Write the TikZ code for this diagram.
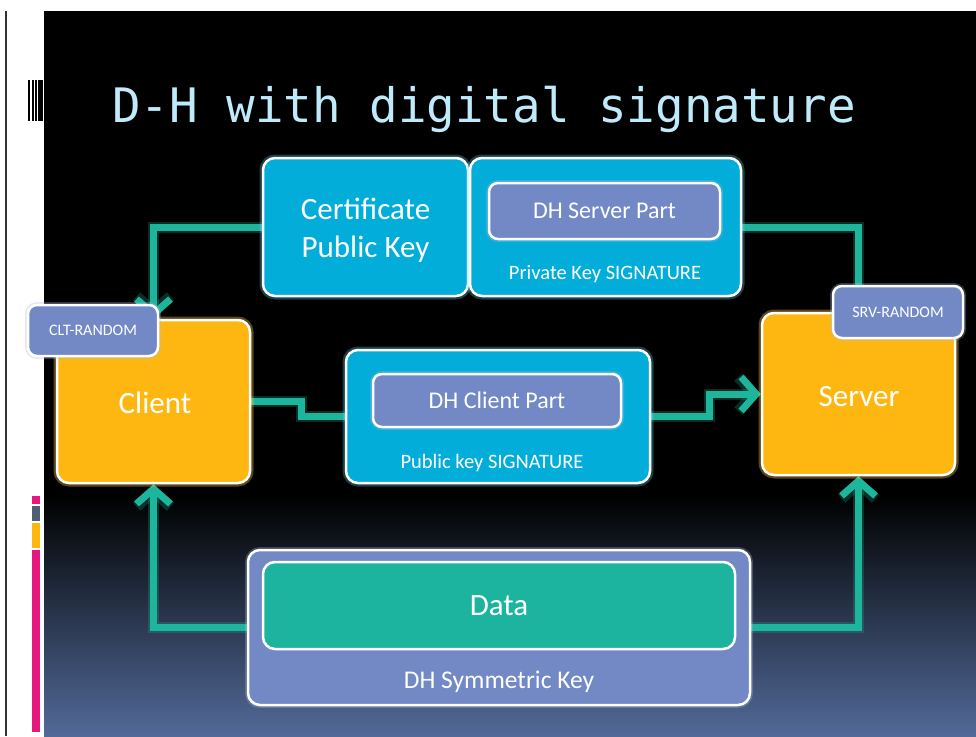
\documentclass[tikz,border=0pt]{standalone}
\usepackage{fontspec}
\setmainfont{Carlito}
\newfontfamily\titlefont{DejaVu Sans Mono}
\usetikzlibrary{arrows.meta,backgrounds}

\definecolor{boxcyan}{RGB}{2,173,218}
\definecolor{slate}{RGB}{114,137,198}
\definecolor{amber}{RGB}{253,183,16}
\definecolor{datateal}{RGB}{28,180,158}
\definecolor{linkteal}{RGB}{29,181,156}
\definecolor{titleblue}{RGB}{190,234,250}
\definecolor{bottomblue}{RGB}{82,106,152}
\definecolor{barpink}{RGB}{230,24,125}
\definecolor{bargrey}{RGB}{80,94,116}

\begin{document}
\begin{tikzpicture}[x=1pt,y=-1pt,
  box/.style={draw=white, line width=2.5pt, rounded corners=12pt, inner sep=0pt,
              text=white, align=center},
  cyanbox/.style={box, fill=boxcyan,
              preaction={draw=boxcyan!60!white, line width=7pt, opacity=0.3}},
  amberbox/.style={box, fill=amber,
              preaction={draw=amber!70!white, line width=7pt, opacity=0.35}},
  slatebox/.style={box, fill=slate, rounded corners=9pt,
              preaction={draw=slate!60!white, line width=6pt, opacity=0.3}},
  databox/.style={box, fill=datateal, rounded corners=12pt},
  link/.style={draw=linkteal, line width=7pt, line join=miter,
              preaction={draw=linkteal, line width=11pt, opacity=0.25}},
  tip/.style={-{Straight Barb[length=15pt,width=34pt]}},
  huge/.style={font=\fontsize{31}{38}\selectfont},
  mid/.style={font=\fontsize{24}{28}\selectfont},
  small/.style={font=\fontsize{20.5}{24}\selectfont, text=white, inner sep=0pt},
  tiny/.style={font=\fontsize{16}{19}\selectfont}
]
\useasboundingbox (0,0) rectangle (976,736);

% boxes
\node[cyanbox, minimum width=205pt, minimum height=138pt] (cert) at (365.5,227) {};
\node[huge, text=white, align=center, inner sep=0pt] (certlabel) at (365.5,230)
  {Certificate\\Public Key};
\node[cyanbox, minimum width=271pt, minimum height=138pt] (priv) at (605.5,227) {};
\node[slatebox, minimum width=231pt, minimum height=56pt, mid] (srvpart) at (604.5,211)
  {DH Server Part};
\node[small] (privsig) at (605,274) {Private Key SIGNATURE};

\node[amberbox, minimum width=193pt, minimum height=163pt] (client) at (153.5,401.5) {};
\node[huge, text=white, inner sep=0pt] (clientlabel) at (155,403) {Client};
\node[slatebox, minimum width=130pt, minimum height=51pt, tiny] (cltr) at (93,330.5) {CLT-RANDOM};

\node[cyanbox, minimum width=304pt, minimum height=133pt] (midbox) at (498,416.5) {};
\node[slatebox, minimum width=248pt, minimum height=53pt, mid] (clipart) at (497,400.5)
  {DH Client Part};
\node[small] (pubsig) at (492,463) {Public key SIGNATURE};

\node[amberbox, minimum width=193pt, minimum height=162pt] (server) at (858.5,394) {};
\node[huge, text=white, inner sep=0pt] (serverlabel) at (859,397) {Server};
\node[slatebox, minimum width=130pt, minimum height=52pt, tiny] (srvr) at (898,312) {SRV-RANDOM};

\node[slatebox, rounded corners=12pt, minimum width=502pt, minimum height=155pt] (sym) at (499,627.5) {};
\node[databox, minimum width=472pt, minimum height=87pt, huge] (data) at (499,605.5) {Data};
\node[small, font=\fontsize{25.5}{30}\selectfont] (symlabel) at (499,682) {DH Symmetric Key};

% title
\node[anchor=base west, inner sep=0pt, text=titleblue,
      font=\titlefont\fontsize{47.5}{50}\selectfont] (title) at (112,122)
  {D-H with digital signature};

\begin{pgfonlayer}{background}
  % slide background
  \fill[white] (0,0) rectangle (976,736);
  \fill[black] (44,11) rectangle (976,496);
  \shade[top color=black, bottom color=bottomblue] (44,495) rectangle (976,736);
  \fill[black!80] (4.5,11) rectangle (7,736);
  % bar marks on the left margin
  \fill[black] (28,80) rectangle (29.5,121);
  \fill[black] (31.5,80) rectangle (33.5,121);
  \fill[black] (34.5,80) rectangle (36.5,121);
  \fill[black] (37.5,80) rectangle (43,121);
  \fill[barpink] (32,496) rectangle (40,504);
  \fill[bargrey] (32,506) rectangle (40,520.5);
  \fill[amber] (32,523) rectangle (40,547.5);
  \fill[barpink] (32,550) rectangle (40,732);

  % connectors
  \draw[link, tip] (cert.west) -| (client.north);
  \draw[link, tip] (priv.east) -| (server.north);
  \draw[link] (client.east) -- ++(50,0) |- (midbox.west);
  \draw[link, tip] (midbox.east) -- ++(58,0) |- (server.west);
  \draw[link, tip] (sym.west) -| (client.south);
  \draw[link, tip] (sym.east) -| (server.south);
\end{pgfonlayer}
\end{tikzpicture}
\end{document}
